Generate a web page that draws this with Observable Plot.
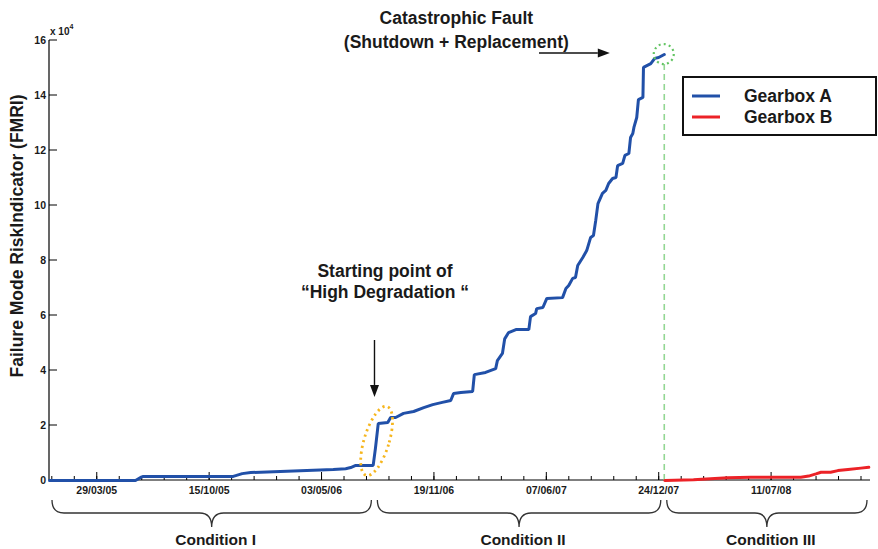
<!DOCTYPE html>
<html>
<head>
<meta charset="utf-8">
<script src="https://cdn.jsdelivr.net/npm/d3@7"></script>
<script src="https://cdn.jsdelivr.net/npm/@observablehq/plot@0.6"></script>
<style>
  html, body { margin: 0; padding: 0; background: #fff; }
  #chart { width: 878px; height: 549px; }
</style>
</head>
<body>
<div id="chart"></div>
<script>
// Gearbox A: cumulative failure-mode risk indicator up to the catastrophic fault
const gearboxADates = [
  "2005-01-03","2005-06-05","2005-06-14","2005-06-19","2005-11-26","2005-12-12","2005-12-27",
  "2006-05-23","2006-06-14","2006-06-23","2006-07-02","2006-08-02","2006-08-06","2006-08-11",
  "2006-08-28","2006-09-02","2006-09-11","2006-09-25","2006-10-13","2006-10-31","2006-11-16",
  "2006-12-03","2006-12-18","2006-12-23","2007-01-05","2007-01-26","2007-01-29","2007-02-18",
  "2007-03-08","2007-03-11","2007-03-20","2007-03-24","2007-03-31","2007-04-13","2007-05-06",
  "2007-05-09","2007-05-18","2007-05-20","2007-05-31","2007-06-07","2007-07-05","2007-07-11",
  "2007-07-16","2007-07-23","2007-07-28","2007-08-01","2007-08-10","2007-08-17","2007-08-24",
  "2007-08-29","2007-09-02","2007-09-06","2007-09-14","2007-09-20","2007-09-25","2007-10-02",
  "2007-10-08","2007-10-11","2007-10-20","2007-10-24","2007-10-31","2007-11-03","2007-11-07",
  "2007-11-09","2007-11-14","2007-11-17","2007-11-25","2007-11-26","2007-12-09","2007-12-16",
  "2007-12-23","2008-01-02"
];
const gearboxAValues = [
  0, 0, 1100, 1500, 1500, 2500, 2900,
  4000, 4300, 4700, 5500, 5500, 11700, 20700,
  21100, 22900, 22900, 24400, 25100, 26500, 27600,
  28400, 29100, 31600, 32000, 32400, 38500, 39300,
  40700, 43600, 46200, 51500, 53800, 54900, 54900,
  59600, 60700, 62500, 62900, 66200, 66500, 69800,
  70900, 73500, 73800, 78200, 81100, 83600, 88400,
  89100, 94500, 100700, 104400, 105500, 108000, 109800,
  110200, 114500, 115300, 118200, 118900, 124700, 126200,
  128400, 132000, 138500, 139300, 150200, 151600, 153500,
  153800, 154900
];

// Gearbox B: replacement unit after the fault
const gearboxBDates = [
  "2008-01-03","2008-02-23","2008-04-24","2008-06-04","2008-09-01","2008-09-15","2008-09-28",
  "2008-10-07","2008-10-24","2008-11-06","2008-11-24","2008-12-17","2008-12-31"
];
const gearboxBValues = [0, 300, 1000, 1200, 1200, 1600, 2400, 3000, 3000, 3600, 4000, 4500, 4800];

const seriesNames = ["Gearbox A", "Gearbox B"];
const seriesColors = ["#2150a8", "#ec2227"];

// Axis ticks
const xDomain = ["2005-01-03", "2009-01-03"];
const majorTickDates = ["2005-03-29","2005-10-15","2006-05-03","2006-11-19","2007-06-07","2007-12-24","2008-07-11"];
const majorTickLabels = ["29/03/05","15/10/05","03/05/06","19/11/06","07/06/07","24/12/07","11/07/08"];
const yTickValues = [0, 20000, 40000, 60000, 80000, 100000, 120000, 140000, 160000];
const yTickLabels = ["0","2","4","6","8","10","12","14","16"];

// Operating periods
const conditionLabels = ["Condition I", "Condition II", "Condition III"];
const conditionStarts = ["2005-01-03", "2006-08-05", "2008-01-02"];
const conditionEnds = ["2006-08-05", "2008-01-02", "2009-01-03"];

const faultDate = "2008-01-02";
const degradationDate = "2006-08-07";

const parse = d3.utcParse("%Y-%m-%d");
const toRows = (dates, values, name) => dates.map((d, i) => ({date: parse(d), fmri: values[i], gearbox: name}));
const rowsA = toRows(gearboxADates, gearboxAValues, seriesNames[0]);
const rowsB = toRows(gearboxBDates, gearboxBValues, seriesNames[1]);

const FONT = "'Liberation Sans', Arial, Helvetica, sans-serif";
const INK = "#1a1a1a";

const plot = Plot.plot({
  width: 878,
  height: 549,
  marginLeft: 49,
  marginRight: 8,
  marginTop: 40,
  marginBottom: 69,
  x: {type: "utc", domain: xDomain.map(parse), axis: null},
  y: {domain: [0, 160000], axis: null},
  style: {fontFamily: FONT, background: "#fff", overflow: "visible"},
  marks: [
    Plot.ruleX([parse(faultDate)], {x: d => d, y1: 0, y2: 152000, stroke: "#93d693", strokeWidth: 1.6, strokeDasharray: "6,4"}),
    Plot.line(rowsA, {x: "date", y: "fmri", stroke: seriesColors[0], strokeWidth: 3, strokeLinejoin: "miter"}),
    Plot.line(rowsB, {x: "date", y: "fmri", stroke: seriesColors[1], strokeWidth: 3}),
    Plot.text(["Catastrophic Fault\n(Shutdown + Replacement)"], {
      x: () => parse("2006-12-28"), y: () => 164300, text: d => d,
      fontSize: 17.5, fontWeight: "bold", fill: INK, lineHeight: 1.36
    }),
    Plot.text(["Starting point of\n\u201cHigh Degradation \u201c"], {
      x: () => parse("2006-08-23"), y: () => 72800, text: d => d,
      fontSize: 17.5, fontWeight: "bold", fill: INK, lineHeight: 1.2
    })
  ]
});

document.getElementById("chart").appendChild(plot);

const svg = d3.select(plot);
const X = plot.scale("x").apply;
const Y = plot.scale("y").apply;
const x0 = X(parse(xDomain[0])), x1 = X(parse(xDomain[1]));
const y0 = Y(0), yTop = Y(160000);

// Axes sit beneath the data lines
const axes = svg.insert("g", "g").attr("stroke", "#000").attr("fill", "none");
axes.append("line").attr("x1", x0).attr("x2", x1).attr("y1", y0).attr("y2", y0).attr("stroke-width", 1.2);
axes.append("line").attr("x1", x0).attr("x2", x0).attr("y1", y0).attr("y2", yTop).attr("stroke-width", 1.2);

// minor x ticks every 40 days, major every 200 days
const base = parse(majorTickDates[0]);
const minorTicks = d3.range(-80, 1400, 40).map(n => d3.utcDay.offset(base, n)).filter(d => X(d) >= x0 && X(d) <= x1);
axes.selectAll(".minor").data(minorTicks).join("line")
  .attr("x1", d => X(d)).attr("x2", d => X(d)).attr("y1", y0).attr("y2", y0 - 4).attr("stroke-width", 1);
axes.selectAll(".major").data(majorTickDates).join("line")
  .attr("x1", d => X(parse(d))).attr("x2", d => X(parse(d))).attr("y1", y0).attr("y2", y0 - 8).attr("stroke-width", 1);
axes.selectAll(".ytick").data(yTickValues).join("line")
  .attr("x1", x0).attr("x2", x0 + 8).attr("y1", d => Y(d)).attr("y2", d => Y(d)).attr("stroke-width", 1);

const labels = svg.append("g").attr("font-family", FONT).attr("font-weight", "bold").attr("fill", INK);
labels.selectAll(".xl").data(majorTickDates).join("text")
  .attr("x", (d, i) => X(parse(d))).attr("y", y0 + 14).attr("text-anchor", "middle").attr("font-size", 10.5)
  .text((d, i) => majorTickLabels[i]);
labels.selectAll(".yl").data(yTickValues).join("text")
  .attr("x", x0 - 3).attr("y", d => Y(d)).attr("dy", "0.36em").attr("text-anchor", "end").attr("font-size", 10.5)
  .text((d, i) => yTickLabels[i]);

// exponent marker
const expo = labels.append("text").attr("x", x0 + 1).attr("y", yTop - 5)
  .attr("text-anchor", "start").attr("font-size", 10);
expo.append("tspan").text("x 10");
expo.append("tspan").attr("dy", -6).attr("font-size", 7).text("4");

// y-axis title
labels.append("text")
  .attr("transform", `translate(23,${(y0 + yTop) / 2 - 24}) rotate(-90)`)
  .attr("text-anchor", "middle").attr("font-size", 17.5)
  .text("Failure Mode RiskIndicator (FMRI)");

// braces and condition labels under the axis
function bracePath(a, b, top, mid, tip) {
  const m = (a + b) / 2, r = 12;
  return `M${a},${top} Q${a},${mid} ${a + r},${mid} L${m - r},${mid} Q${m},${mid} ${m},${tip} ` +
         `Q${m},${mid} ${m + r},${mid} L${b - r},${mid} Q${b},${mid} ${b},${top}`;
}
conditionLabels.forEach((label, i) => {
  const a = X(parse(conditionStarts[i])) + 3, b = X(parse(conditionEnds[i])) - 3;
  svg.append("path").attr("d", bracePath(a, b, y0 + 20, y0 + 33, y0 + 47))
    .attr("fill", "none").attr("stroke", "#333").attr("stroke-width", 1.3);
  labels.append("text").attr("x", (a + b) / 2 + 4).attr("y", y0 + 65).attr("text-anchor", "middle")
    .attr("font-size", 15.5).text(label);
});

// arrows
function arrow(xa, ya, xb, yb) {
  const ang = Math.atan2(yb - ya, xb - xa), L = 12, W = 4.5;
  const bx = xb - L * Math.cos(ang), by = yb - L * Math.sin(ang);
  svg.append("line").attr("x1", xa).attr("y1", ya).attr("x2", bx).attr("y2", by)
    .attr("stroke", "#111").attr("stroke-width", 1.4);
  svg.append("path")
    .attr("d", `M${xb},${yb} L${bx - W * Math.sin(ang)},${by + W * Math.cos(ang)} L${bx + W * Math.sin(ang)},${by - W * Math.cos(ang)} Z`)
    .attr("fill", "#111");
}
const xd = X(parse(degradationDate)) - 1;
arrow(xd, Y(50900), xd, Y(30200));
arrow(X(parse("2007-05-25")), Y(155300), X(parse("2007-09-28")), Y(155300));

// dotted highlight around the degradation jump
svg.append("ellipse")
  .attr("transform", `translate(${X(parse("2006-08-09"))},${Y(14200)}) rotate(17)`)
  .attr("rx", 12.5).attr("ry", 36)
  .attr("fill", "none").attr("stroke", "#f6b61e").attr("stroke-width", 2.8).attr("stroke-dasharray", "2.2,3.6");

// dotted highlight at the fault point
svg.append("circle")
  .attr("cx", X(parse(faultDate))).attr("cy", Y(154900)).attr("r", 10)
  .attr("fill", "none").attr("stroke", "#62c462").attr("stroke-width", 2.2).attr("stroke-dasharray", "2,3.2");

// legend
const lg = svg.append("g").attr("transform", "translate(683,77)");
lg.append("rect").attr("width", 193).attr("height", 58).attr("fill", "#fff").attr("stroke", "#111").attr("stroke-width", 2);
seriesNames.forEach((name, i) => {
  const yy = 19 + i * 21;
  lg.append("line").attr("x1", 9).attr("x2", 37).attr("y1", yy).attr("y2", yy)
    .attr("stroke", seriesColors[i]).attr("stroke-width", 3);
  lg.append("text").attr("x", 61).attr("y", yy).attr("dy", "0.36em").attr("text-anchor", "start")
    .attr("font-family", FONT).attr("font-weight", "bold").attr("font-size", 17.5).attr("fill", INK).text(name);
});
</script>
</body>
</html>
